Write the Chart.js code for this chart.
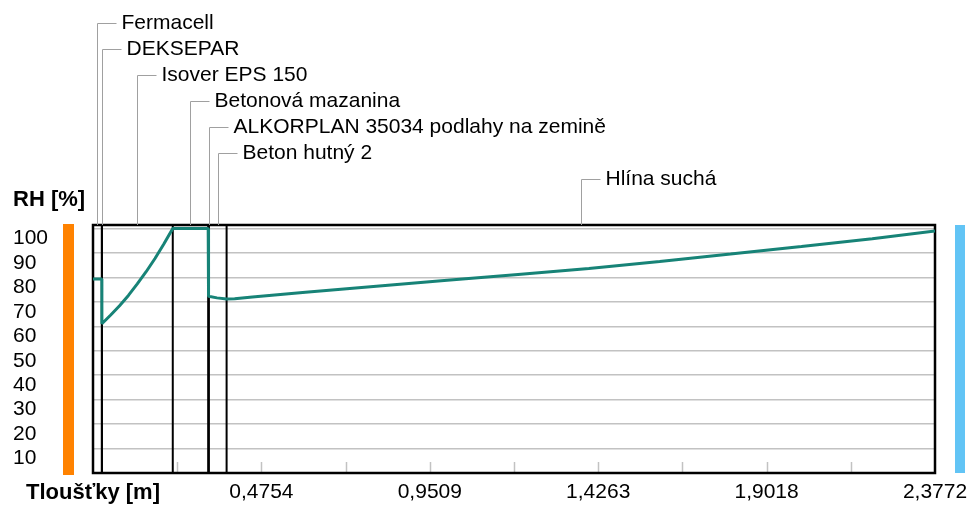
<!DOCTYPE html>
<html lang="cs">
<head>
<meta charset="utf-8">
<title>Průběh relativní vlhkosti v konstrukci</title>
<script src="https://cdn.jsdelivr.net/npm/chart.js@4.4.1/dist/chart.umd.min.js"></script>
<style>
    html, body { margin: 0; padding: 0; background: #fff; }
    #wrap { width: 972px; height: 506px; }
</style>
</head>
<body>
<div id="wrap"><canvas id="rhChart" width="972" height="506"></canvas></div>
<script>
// Layers of the floor build-up, interior side first (thickness in m)
const layerNames = [
    'Fermacell',
    'DEKSEPAR',
    'Isover EPS 150',
    'Betonová mazanina',
    'ALKORPLAN 35034 podlahy na zemině',
    'Beton hutný 2',
    'Hlína suchá'
];
const layerThickness = [0.025, 0.0002, 0.2, 0.1, 0.002, 0.05, 2.0];

// Relative humidity profile through the build-up
const rhX = [
    0, 0.025, 0.025, 0.0252,
    0.05, 0.075, 0.10, 0.125, 0.15, 0.175, 0.20, 0.2252,
    0.3252, 0.3252, 0.3272, 0.35, 0.3772,
    0.40, 0.45, 0.60, 0.80, 1.00, 1.20, 1.40, 1.60, 1.80, 2.00, 2.20, 2.3772
];
const rhValues = [
    79.3, 79.3, 61.0, 61.0,
    64.6, 68.4, 72.6, 77.3, 82.3, 87.7, 93.6, 100.0,
    100.0, 72.3, 72.3, 71.6, 71.1,
    71.2, 72.0, 73.9, 76.4, 78.8, 81.2, 83.6, 86.5, 89.5, 92.6, 95.8, 99.0
];

// Axis ticks
const xTickValues = [0, 0.4754, 0.9509, 1.4263, 1.9018, 2.3772];
const xTickLabels = ['Tloušťky [m]', '0,4754', '0,9509', '1,4263', '1,9018', '2,3772'];
const xMinorTicks = [0.2377, 0.4754, 0.7132, 0.9509, 1.1886, 1.4263, 1.6640, 1.9018, 2.1395];
const yTickValues = [10, 20, 30, 40, 50, 60, 70, 80, 90, 100];

const FONT = '"Liberation Sans", Arial, sans-serif';

const colors = {
    line: '#178377',
    grid: '#c2c2c2',
    leader: '#a0a0a0',
    interior: '#ff8200',
    exterior: '#62c4f5'
};

// Layer boundaries, plot frame, bottom tick marks, side bars and layer captions
const layerOverlay = {
    id: 'layerOverlay',
    beforeDatasetsDraw(chart) {
        const ctx = chart.ctx;
        const area = chart.chartArea;
        const xs = chart.scales.x;
        ctx.save();

        // small tick marks inside the plot
        ctx.strokeStyle = colors.grid;
        ctx.lineWidth = 1.5;
        xMinorTicks.forEach(v => {
            const px = Math.round(xs.getPixelForValue(v)) + 0.5;
            ctx.beginPath();
            ctx.moveTo(px, area.bottom);
            ctx.lineTo(px, area.bottom - 11);
            ctx.stroke();
        });

        // boundaries between layers
        ctx.strokeStyle = '#000';
        ctx.lineWidth = 2;
        let pos = 0;
        layerThickness.slice(0, -1).forEach(t => {
            pos += t;
            const px = xs.getPixelForValue(pos);
            ctx.beginPath();
            ctx.moveTo(px, area.top);
            ctx.lineTo(px, area.bottom);
            ctx.stroke();
        });

        // frame
        ctx.lineWidth = 2.5;
        ctx.strokeRect(area.left, area.top, area.right - area.left, area.bottom - area.top);
        ctx.restore();
    },
    afterDraw(chart) {
        const ctx = chart.ctx;
        const area = chart.chartArea;
        const xs = chart.scales.x;
        ctx.save();

        // interior / exterior bars
        ctx.fillStyle = colors.interior;
        ctx.fillRect(area.left - 30, area.top - 1, 11, area.bottom - area.top + 3);
        ctx.fillStyle = colors.exterior;
        ctx.fillRect(area.right + 20, area.top, 10, area.bottom - area.top);

        // captions with leader lines
        ctx.font = '21px ' + FONT;
        ctx.textBaseline = 'middle';
        ctx.textAlign = 'left';
        let start = 0;
        layerNames.forEach((name, i) => {
            const mid = start + layerThickness[i] / 2;
            start += layerThickness[i];
            const px = Math.round(xs.getPixelForValue(mid)) + 0.5;
            const py = 23.5 + i * 26;
            ctx.strokeStyle = colors.leader;
            ctx.lineWidth = 1;
            ctx.beginPath();
            ctx.moveTo(px, area.top);
            ctx.lineTo(px, py);
            ctx.lineTo(px + 19, py);
            ctx.stroke();
            ctx.fillStyle = '#000';
            ctx.fillText(name, px + 24, py);
        });
        ctx.restore();
    }
};

const ctx = document.getElementById('rhChart').getContext('2d');
window.rhChart = new Chart(ctx, {
    type: 'line',
    data: {
        datasets: [{
            label: 'RH',
            data: rhX.map((x, i) => ({ x: x, y: rhValues[i] })),
            borderColor: colors.line,
            borderWidth: 3,
            borderJoinStyle: 'bevel',
            pointRadius: 0,
            tension: 0,
            fill: false
        }]
    },
    options: {
        responsive: false,
        animation: false,
        devicePixelRatio: 1,
        layout: {
            padding: { left: 13, right: 37, top: 187, bottom: 0 }
        },
        plugins: {
            legend: { display: false },
            tooltip: { enabled: false },
            title: {
                display: true,
                text: 'RH [%]',
                align: 'start',
                color: '#000',
                font: { family: FONT, size: 22, weight: 'bold', lineHeight: 1.2 },
                padding: { top: 0, bottom: 11.6 }
            }
        },
        scales: {
            x: {
                type: 'linear',
                min: 0,
                max: 2.3772,
                afterBuildTicks: scale => {
                    scale.ticks = xTickValues.map(v => ({ value: v }));
                },
                afterFit: scale => {
                    scale.height = 33;
                    // end labels may overhang into the side margins
                    scale.paddingLeft = 0;
                    scale.paddingRight = 0;
                },
                grid: { display: false, drawTicks: false },
                border: { display: false },
                ticks: {
                    autoSkip: false,
                    maxRotation: 0,
                    padding: 7,
                    color: '#000',
                    font: c => c.index === 0
                        ? { family: FONT, size: 22, weight: 'bold' }
                        : { family: FONT, size: 21 },
                    callback: (value, index) => xTickLabels[index]
                }
            },
            y: {
                min: 0,
                max: 101.4,
                afterBuildTicks: scale => {
                    scale.ticks = yTickValues.map(v => ({ value: v }));
                },
                afterFit: scale => { scale.width = 80; },
                grid: {
                    color: colors.grid,
                    lineWidth: 1.5,
                    drawTicks: false
                },
                border: { display: false },
                ticks: {
                    autoSkip: false,
                    crossAlign: 'far',
                    labelOffset: 10,
                    color: '#000',
                    font: { family: FONT, size: 21 },
                    callback: value => String(value)
                }
            }
        }
    },
    plugins: [layerOverlay]
});
</script>
</body>
</html>
